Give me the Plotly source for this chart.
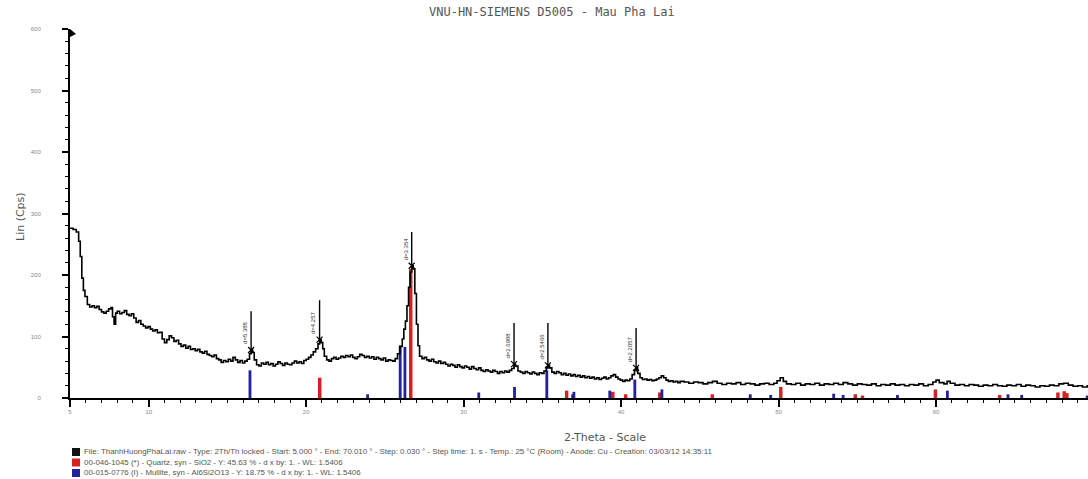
import plotly.graph_objects as go

# ---------------- data ----------------
two_theta = [5.0, 5.2, 5.4, 5.55, 5.65, 5.75, 5.85, 5.95, 6.1, 6.25, 6.4, 6.55, 6.7, 6.85, 7.0, 7.15, 7.3, 7.45, 7.6, 7.7,
             7.8, 7.9, 8.0, 8.15, 8.3, 8.45, 8.6, 8.75, 8.9, 9.05, 9.2, 9.35, 9.5, 9.65, 9.8, 9.95, 10.1, 10.25, 10.4, 10.55,
             10.7, 10.85, 11.0, 11.15, 11.3, 11.45, 11.6, 11.75, 11.9, 12.05, 12.2, 12.35, 12.5, 12.65, 12.8, 12.95, 13.1, 13.25, 13.4, 13.55,
             13.7, 13.85, 14.0, 14.15, 14.3, 14.45, 14.6, 14.75, 14.9, 15.05, 15.2, 15.35, 15.5, 15.65, 15.8, 15.95, 16.1, 16.25, 16.4, 16.5,
             16.6, 16.7, 16.85, 17.0, 17.15, 17.3, 17.45, 17.6, 17.75, 17.9, 18.05, 18.2, 18.35, 18.5, 18.65, 18.8, 18.95, 19.1, 19.25, 19.4,
             19.55, 19.7, 19.85, 20.0, 20.15, 20.3, 20.45, 20.6, 20.75, 20.85, 20.95, 21.05, 21.15, 21.3, 21.45, 21.6, 21.75, 21.9, 22.05, 22.2,
             22.35, 22.5, 22.65, 22.8, 22.95, 23.1, 23.25, 23.4, 23.55, 23.7, 23.85, 24.0, 24.15, 24.3, 24.45, 24.6, 24.75, 24.9, 25.05, 25.2,
             25.35, 25.5, 25.65, 25.8, 25.95, 26.1, 26.2, 26.3, 26.4, 26.5, 26.6, 26.7, 26.8, 26.9, 27.0, 27.1, 27.2, 27.35, 27.5, 27.65,
             27.8, 27.95, 28.1, 28.25, 28.4, 28.55, 28.7, 28.85, 29.0, 29.15, 29.3, 29.45, 29.6, 29.75, 29.9, 30.05, 30.2, 30.35, 30.5, 30.65,
             30.8, 30.95, 31.1, 31.25, 31.4, 31.55, 31.7, 31.85, 32.0, 32.15, 32.3, 32.45, 32.6, 32.75, 32.9, 33.05, 33.2, 33.3, 33.45, 33.6,
             33.75, 33.9, 34.05, 34.2, 34.35, 34.5, 34.65, 34.8, 34.95, 35.1, 35.25, 35.35, 35.45, 35.6, 35.75, 35.9, 36.05, 36.2, 36.35, 36.5,
             36.65, 36.8, 36.95, 37.1, 37.25, 37.4, 37.55, 37.7, 37.85, 38.0, 38.15, 38.3, 38.45, 38.6, 38.75, 38.9, 39.05, 39.2, 39.35, 39.5,
             39.65, 39.8, 39.95, 40.1, 40.25, 40.4, 40.55, 40.7, 40.85, 40.95, 41.05, 41.2, 41.35, 41.5, 41.65, 41.8, 41.95, 42.1, 42.25, 42.4,
             42.55, 42.7, 42.85, 43.0, 43.15, 43.3, 43.45, 43.6, 43.75, 44.0, 44.3, 44.6, 44.9, 45.2, 45.5, 45.8, 46.1, 46.4, 46.7, 47.0,
             47.3, 47.6, 47.9, 48.2, 48.5, 48.8, 49.1, 49.4, 49.7, 49.9, 50.1, 50.3, 50.5, 50.8, 51.1, 51.4, 51.7, 52.0, 52.3, 52.6,
             52.9, 53.2, 53.5, 53.8, 54.1, 54.4, 54.7, 55.0, 55.3, 55.6, 55.9, 56.2, 56.5, 56.8, 57.1, 57.4, 57.7, 58.0, 58.3, 58.6,
             58.9, 59.2, 59.5, 59.8, 60.0, 60.2, 60.5, 60.7, 60.9, 61.2, 61.5, 61.8, 62.1, 62.4, 62.7, 63.0, 63.3, 63.6, 63.9, 64.2,
             64.5, 64.8, 65.1, 65.4, 65.7, 66.0, 66.3, 66.6, 66.9, 67.2, 67.5, 67.8, 68.1, 68.4, 68.7, 69.0, 69.3, 69.6, 69.9, 70.0]

lin_cps = [276, 274, 270, 255, 230, 195, 175, 165, 152, 148, 150, 147, 149, 144, 140, 138, 141, 145, 147, 132,
           120, 138, 141, 137, 139, 142, 136, 134, 137, 130, 123, 126, 120, 117, 114, 116, 112, 109, 111, 106,
           107, 96, 90, 95, 101, 98, 92, 94, 88, 84, 86, 81, 84, 79, 80, 77, 79, 75, 73, 76,
           71, 69, 67, 70, 64, 62, 58, 61, 59, 63, 60, 66, 62, 58, 61, 57, 60, 63, 72, 78,
           74, 62, 54, 52, 57, 55, 58, 54, 56, 52, 55, 59, 56, 53, 57, 55, 54, 57, 60, 57,
           59, 56, 61, 63, 66, 70, 75, 80, 88, 95, 90, 80, 68, 62, 60, 64, 66, 63, 65, 68,
           66, 69, 67, 70, 66, 64, 67, 71, 69, 66, 68, 65, 67, 63, 66, 64, 62, 65, 60, 62,
           61, 60, 64, 72, 84, 96, 112, 125, 150, 180, 205, 215, 210, 170, 120, 85, 68, 64, 66, 62,
           60, 63, 59, 57, 60, 56, 58, 55, 52, 55, 53, 50, 54, 51, 49, 52, 50, 47, 51, 48,
           46, 49, 45, 43, 46, 44, 42, 45, 43, 40, 43, 41, 44, 42, 45, 48, 55, 52, 44, 42,
           40, 43, 41, 39, 42, 40, 38, 41, 40, 44, 50, 53, 49, 42, 40, 43, 41, 38, 40, 37,
           39, 36, 38, 35, 37, 34, 36, 33, 35, 32, 34, 31, 33, 30, 32, 34, 31, 33, 36, 38,
           34, 31, 29, 27, 29, 28, 31, 38, 46, 49, 40, 33, 30, 31, 29, 30, 28, 29, 31, 33,
           36, 33, 29, 27, 28, 26, 27, 25, 27, 26, 24, 26, 25, 23, 25, 27, 24, 22, 24, 23,
           25, 22, 24, 23, 21, 23, 24, 22, 24, 28, 33, 27, 23, 22, 24, 21, 23, 22, 24, 21,
           23, 22, 24, 22, 25, 23, 21, 23, 22, 21, 23, 20, 22, 21, 23, 21, 22, 20, 22, 21,
           23, 20, 22, 26, 29, 25, 23, 27, 24, 21, 22, 20, 22, 21, 19, 21, 20, 22, 20, 19,
           21, 20, 22, 19, 21, 20, 18, 20, 19, 21, 20, 23, 24, 21, 19, 20, 18, 20, 19, 19]

# identified peaks (d-spacing labels)
peak_pos = [16.5, 20.85, 26.7, 33.2, 35.35, 40.95]
peak_int = [78, 95, 215, 55, 53, 49]
peak_line_top = [141, 159, 270, 122, 122, 114]
peak_labels = ["d=5.388", "d=4.257", "d=3.354", "d=2.6988", "d=2.5466", "d=2.2057"]

# reference patterns (stick heights as drawn, Lin Cps)
quartz_pos = [20.86, 26.64, 36.54, 39.47, 40.29, 42.45, 45.79, 50.14, 54.87, 55.33, 59.96, 64.04, 67.74, 68.14, 68.31]
quartz_h = [33, 210, 12, 10, 6, 9, 6, 18, 6, 4, 14, 5, 9, 11, 8]
mullite_pos = [16.43, 23.9, 25.97, 26.27, 30.96, 33.23, 35.28, 36.92, 37.0, 39.28, 40.87, 42.59, 48.2, 49.5,
               53.5, 54.1, 57.55, 60.72, 64.57, 65.44, 69.6]
mullite_h = [45, 6, 85, 83, 9, 18, 45, 6, 10, 12, 30, 14, 6, 5, 7, 5, 5, 12, 6, 5, 4]

title_text = "VNU-HN-SIEMENS D5005 - Mau Pha Lai"
legend_lines = [
    "File: ThanhHuongPhaLai.raw - Type: 2Th/Th locked - Start: 5.000 \u00b0 - End: 70.010 \u00b0 - Step: 0.030 \u00b0 - Step time: 1. s - Temp.: 25 \u00b0C (Room) - Anode: Cu - Creation: 03/03/12 14:35:11",
    "00-046-1045 (*) - Quartz, syn - SiO2 - Y: 45.63 % - d x by: 1. - WL: 1.5406",
    "00-015-0776 (I) - Mullite, syn - Al6Si2O13 - Y: 18.75 % - d x by: 1. - WL: 1.5406",
]
legend_colors = ["#111111", "#d42222", "#22229e"]

# ---------------- figure ----------------
PW, PH = 1018.0, 369.0          # plot area size in pixels
PLOT_L, PLOT_B = 70, 398         # plot area edges in page pixels

fig = go.Figure()

fig.add_trace(go.Bar(x=quartz_pos, y=quartz_h, width=0.22, marker=dict(color="#d42222", line=dict(width=0)),
                     showlegend=False, hoverinfo="skip"))
fig.add_trace(go.Bar(x=mullite_pos, y=mullite_h, width=0.18, marker=dict(color="#22229e", line=dict(width=0)),
                     showlegend=False, hoverinfo="skip"))

fig.add_trace(go.Scatter(x=two_theta, y=lin_cps, mode="lines", line=dict(color="black", width=1.6, shape="hv"),
                         showlegend=False, hoverinfo="skip"))

# peak marker lines
lx, ly = [], []
for p, i, t in zip(peak_pos, peak_int, peak_line_top):
    lx += [p, p, None]
    ly += [i - 6, t, None]
fig.add_trace(go.Scatter(x=lx, y=ly, mode="lines", line=dict(color="black", width=1.4),
                         showlegend=False, hoverinfo="skip"))
fig.add_trace(go.Scatter(x=peak_pos, y=peak_int, mode="markers",
                         marker=dict(symbol="x-thin", size=6, line=dict(color="black", width=1.2)),
                         showlegend=False, hoverinfo="skip"))

for p, i, lab in zip(peak_pos, peak_int, peak_labels):
    fig.add_annotation(x=p, y=i + 6, text=lab, textangle=-90, showarrow=False,
                       xanchor="right", yanchor="bottom", xshift=-1,
                       font=dict(size=6, color="#333333", family="Liberation Sans"))

fig.add_annotation(x=(552 - PLOT_L) / PW, y=(PLOT_B - 12) / PH, xref="paper", yref="paper",
                   xanchor="center", yanchor="middle", text=title_text, showarrow=False,
                   font=dict(size=12, color="#555555", family="DejaVu Sans Mono"))

fig.add_annotation(x=(20 - PLOT_L) / PW, y=(PLOT_B - 217) / PH, xref="paper", yref="paper", text="Lin (Cps)",
                   textangle=-90, xanchor="center", yanchor="middle",
                   showarrow=False, font=dict(size=11, color="#555555", family="DejaVu Sans"))
fig.add_annotation(x=(605 - PLOT_L) / PW, y=(PLOT_B - 437) / PH, xref="paper", yref="paper",
                   xanchor="center", yanchor="middle", text="2-Theta - Scale", showarrow=False,
                   font=dict(size=11, color="#555555", family="DejaVu Sans"))

for k, (txt, col) in enumerate(zip(legend_lines, legend_colors)):
    ypx = 452 + k * 10.5
    yp = (PLOT_B - ypx) / PH
    fig.add_annotation(x=12 / PW, y=yp, xref="paper", yref="paper", xanchor="left", yanchor="middle",
                       text=txt, showarrow=False, font=dict(size=7.9, color="#555555", family="Liberation Sans"))
    fig.add_shape(type="rect", xref="paper", yref="paper",
                  x0=2 / PW, x1=10 / PW, y0=yp - 4 / PH, y1=yp + 4 / PH,
                  fillcolor=col, line=dict(width=0))

# small flag at top of y axis
fig.add_shape(type="path", xref="paper", yref="paper",
              path="M 0 1 L %f %f L 0 %f Z" % (6 / PW, 1 - 5 / PH, 1 - 8 / PH),
              fillcolor="black", line=dict(width=0))

fig.update_layout(
    width=1088, height=479,
    margin=dict(l=PLOT_L, r=0, t=29, b=479 - PLOT_B, autoexpand=False),
    plot_bgcolor="white", paper_bgcolor="white",
    barmode="overlay",
    font=dict(family="Liberation Sans"),
)
fig.update_xaxes(range=[5, 69.65], automargin=False, showgrid=False, zeroline=False, showline=True,
                 linecolor="black", linewidth=2,
                 ticks="outside", ticklen=7, tickwidth=1.5, tickcolor="black",
                 tickvals=[5, 10, 20, 30, 40, 50, 60], ticktext=["5", "10", "20", "30", "40", "50", "60"],
                 tickfont=dict(size=6, color="#888888"),
                 minor=dict(dtick=1, tick0=5, ticks="outside", ticklen=3, tickwidth=1.2, tickcolor="black"))
fig.update_yaxes(range=[0, 600], automargin=False, showgrid=False, zeroline=False, showline=True,
                 linecolor="black", linewidth=2,
                 ticks="outside", ticklen=6, tickwidth=1.5, tickcolor="black", dtick=100,
                 tickfont=dict(size=6, color="#888888"), ticklabelstandoff=20,
                 minor=dict(dtick=20, ticks="outside", ticklen=3, tickwidth=1.2, tickcolor="black"))

fig.write_html("out.html", config={"displayModeBar": False},
               post_script="document.body.style.margin='0';document.body.style.overflow='hidden';")
